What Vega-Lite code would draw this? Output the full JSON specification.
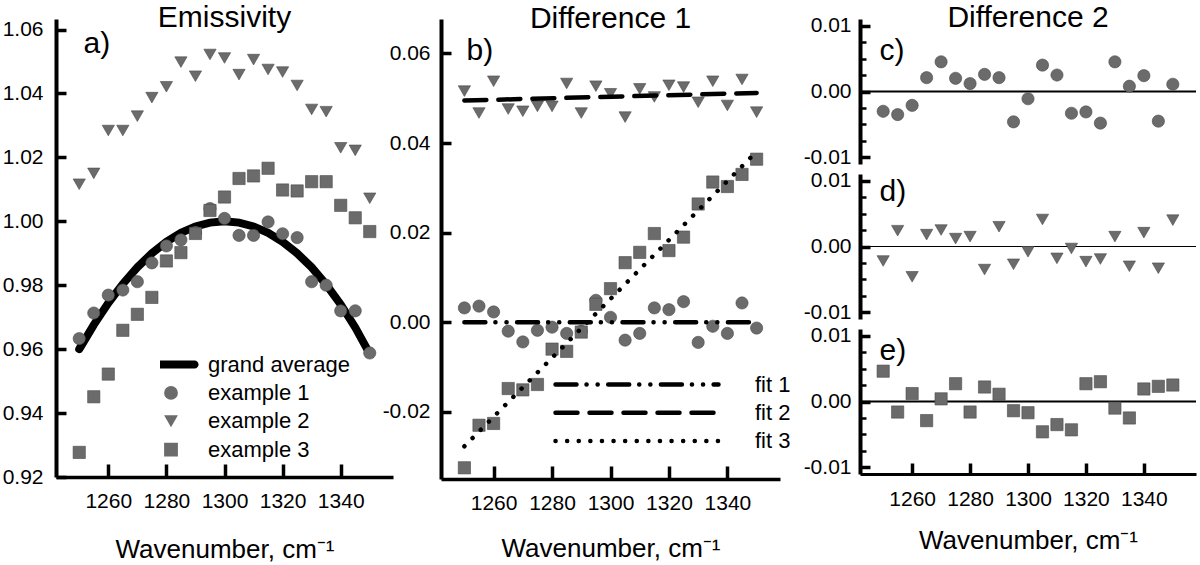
{
  "$schema": "https://vega.github.io/schema/vega-lite/v6.json",
  "description": "Emissivity examples with grand average (a), first differences with fits (b), and second differences (c-e).",
  "padding": {"left": 2, "top": 3, "right": 3, "bottom": 2},
  "spacing": 12,
  "bounds": "full",
  "resolve": {"scale": {"color": "independent", "shape": "independent", "strokeDash": "independent"}},
  "datasets": {
    "avg": [
      {"wn": 1250, "series": "grand average", "value": 0.960},
      {"wn": 1255, "series": "grand average", "value": 0.9676},
      {"wn": 1260, "series": "grand average", "value": 0.9744},
      {"wn": 1265, "series": "grand average", "value": 0.9804},
      {"wn": 1270, "series": "grand average", "value": 0.9856},
      {"wn": 1275, "series": "grand average", "value": 0.990},
      {"wn": 1280, "series": "grand average", "value": 0.9936},
      {"wn": 1285, "series": "grand average", "value": 0.9964},
      {"wn": 1290, "series": "grand average", "value": 0.9984},
      {"wn": 1295, "series": "grand average", "value": 0.9996},
      {"wn": 1300, "series": "grand average", "value": 1.000},
      {"wn": 1305, "series": "grand average", "value": 0.9996},
      {"wn": 1310, "series": "grand average", "value": 0.9984},
      {"wn": 1315, "series": "grand average", "value": 0.9964},
      {"wn": 1320, "series": "grand average", "value": 0.9936},
      {"wn": 1325, "series": "grand average", "value": 0.990},
      {"wn": 1330, "series": "grand average", "value": 0.9856},
      {"wn": 1335, "series": "grand average", "value": 0.9802},
      {"wn": 1340, "series": "grand average", "value": 0.974},
      {"wn": 1345, "series": "grand average", "value": 0.9668},
      {"wn": 1350, "series": "grand average", "value": 0.9585}
    ],
    "emis": [
      {"wn": 1250, "series": "example 1", "value": 0.9633},
      {"wn": 1255, "series": "example 1", "value": 0.9713},
      {"wn": 1260, "series": "example 1", "value": 0.9769},
      {"wn": 1265, "series": "example 1", "value": 0.9785},
      {"wn": 1270, "series": "example 1", "value": 0.9811},
      {"wn": 1275, "series": "example 1", "value": 0.987},
      {"wn": 1280, "series": "example 1", "value": 0.9923},
      {"wn": 1285, "series": "example 1", "value": 0.9942},
      {"wn": 1290, "series": "example 1", "value": 0.9965},
      {"wn": 1295, "series": "example 1", "value": 1.004},
      {"wn": 1300, "series": "example 1", "value": 1.0009},
      {"wn": 1305, "series": "example 1", "value": 0.9956},
      {"wn": 1310, "series": "example 1", "value": 0.9956},
      {"wn": 1315, "series": "example 1", "value": 0.9998},
      {"wn": 1320, "series": "example 1", "value": 0.9961},
      {"wn": 1325, "series": "example 1", "value": 0.9949},
      {"wn": 1330, "series": "example 1", "value": 0.9811},
      {"wn": 1335, "series": "example 1", "value": 0.980},
      {"wn": 1340, "series": "example 1", "value": 0.972},
      {"wn": 1345, "series": "example 1", "value": 0.972},
      {"wn": 1350, "series": "example 1", "value": 0.9588},
      {"wn": 1250, "series": "example 2", "value": 1.0116},
      {"wn": 1255, "series": "example 2", "value": 1.015},
      {"wn": 1260, "series": "example 2", "value": 1.0284},
      {"wn": 1265, "series": "example 2", "value": 1.0284},
      {"wn": 1270, "series": "example 2", "value": 1.0329},
      {"wn": 1275, "series": "example 2", "value": 1.0387},
      {"wn": 1280, "series": "example 2", "value": 1.0421},
      {"wn": 1285, "series": "example 2", "value": 1.0498},
      {"wn": 1290, "series": "example 2", "value": 1.0454},
      {"wn": 1295, "series": "example 2", "value": 1.0522},
      {"wn": 1300, "series": "example 2", "value": 1.0511},
      {"wn": 1305, "series": "example 2", "value": 1.0459},
      {"wn": 1310, "series": "example 2", "value": 1.0506},
      {"wn": 1315, "series": "example 2", "value": 1.0475},
      {"wn": 1320, "series": "example 2", "value": 1.0467},
      {"wn": 1325, "series": "example 2", "value": 1.0425},
      {"wn": 1330, "series": "example 2", "value": 1.035},
      {"wn": 1335, "series": "example 2", "value": 1.0343},
      {"wn": 1340, "series": "example 2", "value": 1.023},
      {"wn": 1345, "series": "example 2", "value": 1.0222},
      {"wn": 1350, "series": "example 2", "value": 1.0072},
      {"wn": 1250, "series": "example 3", "value": 0.9277},
      {"wn": 1255, "series": "example 3", "value": 0.9451},
      {"wn": 1260, "series": "example 3", "value": 0.9522},
      {"wn": 1265, "series": "example 3", "value": 0.9659},
      {"wn": 1270, "series": "example 3", "value": 0.9709},
      {"wn": 1275, "series": "example 3", "value": 0.9762},
      {"wn": 1280, "series": "example 3", "value": 0.9876},
      {"wn": 1285, "series": "example 3", "value": 0.9902},
      {"wn": 1290, "series": "example 3", "value": 0.9962},
      {"wn": 1295, "series": "example 3", "value": 1.0034},
      {"wn": 1300, "series": "example 3", "value": 1.0076},
      {"wn": 1305, "series": "example 3", "value": 1.0134},
      {"wn": 1310, "series": "example 3", "value": 1.0142},
      {"wn": 1315, "series": "example 3", "value": 1.0166},
      {"wn": 1320, "series": "example 3", "value": 1.0098},
      {"wn": 1325, "series": "example 3", "value": 1.0095},
      {"wn": 1330, "series": "example 3", "value": 1.0124},
      {"wn": 1335, "series": "example 3", "value": 1.0124},
      {"wn": 1340, "series": "example 3", "value": 1.005},
      {"wn": 1345, "series": "example 3", "value": 1.0011},
      {"wn": 1350, "series": "example 3", "value": 0.9968}
    ],
    "diff1": [
      {"wn": 1250, "series": "example 1", "value": 0.0032},
      {"wn": 1255, "series": "example 1", "value": 0.0036},
      {"wn": 1260, "series": "example 1", "value": 0.0023},
      {"wn": 1265, "series": "example 1", "value": -0.002},
      {"wn": 1270, "series": "example 1", "value": -0.0044},
      {"wn": 1275, "series": "example 1", "value": -0.0018},
      {"wn": 1280, "series": "example 1", "value": -0.0011},
      {"wn": 1285, "series": "example 1", "value": -0.0025},
      {"wn": 1290, "series": "example 1", "value": -0.002},
      {"wn": 1295, "series": "example 1", "value": 0.0049},
      {"wn": 1300, "series": "example 1", "value": 0.0011},
      {"wn": 1305, "series": "example 1", "value": -0.004},
      {"wn": 1310, "series": "example 1", "value": -0.0025},
      {"wn": 1315, "series": "example 1", "value": 0.0032},
      {"wn": 1320, "series": "example 1", "value": 0.0028},
      {"wn": 1325, "series": "example 1", "value": 0.0046},
      {"wn": 1330, "series": "example 1", "value": -0.0045},
      {"wn": 1335, "series": "example 1", "value": -0.0009},
      {"wn": 1340, "series": "example 1", "value": -0.0025},
      {"wn": 1345, "series": "example 1", "value": 0.0043},
      {"wn": 1350, "series": "example 1", "value": -0.0013},
      {"wn": 1250, "series": "example 2", "value": 0.0516},
      {"wn": 1255, "series": "example 2", "value": 0.0467},
      {"wn": 1260, "series": "example 2", "value": 0.0538},
      {"wn": 1265, "series": "example 2", "value": 0.0476},
      {"wn": 1270, "series": "example 2", "value": 0.0471},
      {"wn": 1275, "series": "example 2", "value": 0.0482},
      {"wn": 1280, "series": "example 2", "value": 0.0482},
      {"wn": 1285, "series": "example 2", "value": 0.0533},
      {"wn": 1290, "series": "example 2", "value": 0.0467},
      {"wn": 1295, "series": "example 2", "value": 0.0527},
      {"wn": 1300, "series": "example 2", "value": 0.051},
      {"wn": 1305, "series": "example 2", "value": 0.0458},
      {"wn": 1310, "series": "example 2", "value": 0.0521},
      {"wn": 1315, "series": "example 2", "value": 0.0503},
      {"wn": 1320, "series": "example 2", "value": 0.0529},
      {"wn": 1325, "series": "example 2", "value": 0.0525},
      {"wn": 1330, "series": "example 2", "value": 0.0491},
      {"wn": 1335, "series": "example 2", "value": 0.0538},
      {"wn": 1340, "series": "example 2", "value": 0.0484},
      {"wn": 1345, "series": "example 2", "value": 0.0542},
      {"wn": 1350, "series": "example 2", "value": 0.0469},
      {"wn": 1250, "series": "example 3", "value": -0.0325},
      {"wn": 1255, "series": "example 3", "value": -0.023},
      {"wn": 1260, "series": "example 3", "value": -0.0226},
      {"wn": 1265, "series": "example 3", "value": -0.0148},
      {"wn": 1270, "series": "example 3", "value": -0.0151},
      {"wn": 1275, "series": "example 3", "value": -0.0139},
      {"wn": 1280, "series": "example 3", "value": -0.006},
      {"wn": 1285, "series": "example 3", "value": -0.0065},
      {"wn": 1290, "series": "example 3", "value": -0.0022},
      {"wn": 1295, "series": "example 3", "value": 0.004},
      {"wn": 1300, "series": "example 3", "value": 0.0075},
      {"wn": 1305, "series": "example 3", "value": 0.0133},
      {"wn": 1310, "series": "example 3", "value": 0.0156},
      {"wn": 1315, "series": "example 3", "value": 0.0198},
      {"wn": 1320, "series": "example 3", "value": 0.016},
      {"wn": 1325, "series": "example 3", "value": 0.019},
      {"wn": 1330, "series": "example 3", "value": 0.0264},
      {"wn": 1335, "series": "example 3", "value": 0.0313},
      {"wn": 1340, "series": "example 3", "value": 0.0303},
      {"wn": 1345, "series": "example 3", "value": 0.033},
      {"wn": 1350, "series": "example 3", "value": 0.0364}
    ],
    "fits": [
      {"wn": 1250, "fit": "fit 1", "value": 0.0},
      {"wn": 1350, "fit": "fit 1", "value": 0.0},
      {"wn": 1250, "fit": "fit 2", "value": 0.0495},
      {"wn": 1350, "fit": "fit 2", "value": 0.0512},
      {"wn": 1250, "fit": "fit 3", "value": -0.0277},
      {"wn": 1350, "fit": "fit 3", "value": 0.0381}
    ],
    "diff2": [
      {"wn": 1250, "series": "example 1", "value": -0.003},
      {"wn": 1255, "series": "example 1", "value": -0.0035},
      {"wn": 1260, "series": "example 1", "value": -0.0021},
      {"wn": 1265, "series": "example 1", "value": 0.0021},
      {"wn": 1270, "series": "example 1", "value": 0.0045},
      {"wn": 1275, "series": "example 1", "value": 0.002},
      {"wn": 1280, "series": "example 1", "value": 0.0012},
      {"wn": 1285, "series": "example 1", "value": 0.0026},
      {"wn": 1290, "series": "example 1", "value": 0.0021},
      {"wn": 1295, "series": "example 1", "value": -0.0046},
      {"wn": 1300, "series": "example 1", "value": -0.0011},
      {"wn": 1305, "series": "example 1", "value": 0.004},
      {"wn": 1310, "series": "example 1", "value": 0.0025},
      {"wn": 1315, "series": "example 1", "value": -0.0033},
      {"wn": 1320, "series": "example 1", "value": -0.0031},
      {"wn": 1325, "series": "example 1", "value": -0.0048},
      {"wn": 1330, "series": "example 1", "value": 0.0045},
      {"wn": 1335, "series": "example 1", "value": 0.0008},
      {"wn": 1340, "series": "example 1", "value": 0.0024},
      {"wn": 1345, "series": "example 1", "value": -0.0045},
      {"wn": 1350, "series": "example 1", "value": 0.0011},
      {"wn": 1250, "series": "example 2", "value": -0.0022},
      {"wn": 1255, "series": "example 2", "value": 0.0024},
      {"wn": 1260, "series": "example 2", "value": -0.0046},
      {"wn": 1265, "series": "example 2", "value": 0.0018},
      {"wn": 1270, "series": "example 2", "value": 0.0025},
      {"wn": 1275, "series": "example 2", "value": 0.0012},
      {"wn": 1280, "series": "example 2", "value": 0.0015},
      {"wn": 1285, "series": "example 2", "value": -0.0035},
      {"wn": 1290, "series": "example 2", "value": 0.003},
      {"wn": 1295, "series": "example 2", "value": -0.0027},
      {"wn": 1300, "series": "example 2", "value": -0.0008},
      {"wn": 1305, "series": "example 2", "value": 0.0041},
      {"wn": 1310, "series": "example 2", "value": -0.0018},
      {"wn": 1315, "series": "example 2", "value": -0.0003},
      {"wn": 1320, "series": "example 2", "value": -0.0023},
      {"wn": 1325, "series": "example 2", "value": -0.0019},
      {"wn": 1330, "series": "example 2", "value": 0.0015},
      {"wn": 1335, "series": "example 2", "value": -0.003},
      {"wn": 1340, "series": "example 2", "value": 0.0021},
      {"wn": 1345, "series": "example 2", "value": -0.0033},
      {"wn": 1350, "series": "example 2", "value": 0.004},
      {"wn": 1250, "series": "example 3", "value": 0.0046},
      {"wn": 1255, "series": "example 3", "value": -0.0016},
      {"wn": 1260, "series": "example 3", "value": 0.0012},
      {"wn": 1265, "series": "example 3", "value": -0.0029},
      {"wn": 1270, "series": "example 3", "value": 0.0004},
      {"wn": 1275, "series": "example 3", "value": 0.0027},
      {"wn": 1280, "series": "example 3", "value": -0.0016},
      {"wn": 1285, "series": "example 3", "value": 0.0022},
      {"wn": 1290, "series": "example 3", "value": 0.0011},
      {"wn": 1295, "series": "example 3", "value": -0.0014},
      {"wn": 1300, "series": "example 3", "value": -0.0017},
      {"wn": 1305, "series": "example 3", "value": -0.0046},
      {"wn": 1310, "series": "example 3", "value": -0.0035},
      {"wn": 1315, "series": "example 3", "value": -0.0043},
      {"wn": 1320, "series": "example 3", "value": 0.0027},
      {"wn": 1325, "series": "example 3", "value": 0.003},
      {"wn": 1330, "series": "example 3", "value": -0.001},
      {"wn": 1335, "series": "example 3", "value": -0.0025},
      {"wn": 1340, "series": "example 3", "value": 0.0019},
      {"wn": 1345, "series": "example 3", "value": 0.0023},
      {"wn": 1350, "series": "example 3", "value": 0.0025}
    ],
    "zero": [{"value": 0}]
  },
  "hconcat": [
    {
      "hconcat": [
        {
          "width": 337,
          "height": 458,
          "title": {"text": "Emissivity", "offset": -14.5},
          "encoding": {
            "x": {
              "field": "wn", "type": "quantitative",
              "scale": {"domain": [1242, 1358], "nice": false, "zero": false},
              "axis": {"values": [1260, 1280, 1300, 1320, 1340], "format": "d", "title": "Wavenumber, cm⁻¹", "zindex": 1,
                "tickSize": -13, "labelPadding": 26, "titlePadding": 25,
                "domainColor": "black", "tickColor": "black", "domainWidth": 3.5, "tickWidth": 3.5,
                "encode": {
                  "domain": {"update": {"stroke": {"value": "black"}, "strokeWidth": {"value": 3.5}}},
                  "ticks": {"update": {"stroke": {"value": "black"}, "strokeWidth": {"value": 3.5}}}
                }}
            },
            "y": {
              "field": "value", "type": "quantitative",
              "scale": {"domain": [0.92, 1.0633], "nice": false, "zero": false},
              "axis": {"values": [0.92, 0.94, 0.96, 0.98, 1.0, 1.02, 1.04, 1.06], "format": ".2f", "zindex": 1,
                "title": "a)", "titleAngle": 0, "titleX": 27, "titleY": 33.5, "titleAlign": "left", "titleBaseline": "alphabetic", "titleFontSize": 30,
                "tickSize": -10, "labelPadding": 23,
                "domainColor": "black", "tickColor": "black", "domainWidth": 4, "tickWidth": 3.5,
                "encode": {
                  "domain": {"update": {"stroke": {"value": "black"}, "strokeWidth": {"value": 4}}},
                  "ticks": {"update": {"stroke": {"value": "black"}, "strokeWidth": {"value": 3.5}}}
                }}
            }
          },
          "layer": [
            {
              "data": {"name": "avg"},
              "mark": {"type": "line", "color": "black", "strokeWidth": 8, "strokeCap": "round"}
            },
            {
              "data": {"name": "emis"},
              "mark": {"type": "point", "filled": true, "opacity": 1, "size": 150, "stroke": "#4a4a4a", "strokeWidth": 0.6},
              "encoding": {
                "color": {
                  "field": "series", "type": "nominal",
                  "scale": {"domain": ["grand average", "example 1", "example 2", "example 3"], "range": ["black", "#6b6b6b", "#6b6b6b", "#6b6b6b"]},
                  "legend": {"orient": "none", "legendX": 104, "legendY": 334.5, "title": null, "symbolSize": 190, "clipHeight": 22, "rowPadding": 6.4, "labelFontSize": 22, "labelOffset": 26, "symbolStrokeWidth": 0, "padding": 0}
                },
                "shape": {
                  "field": "series", "type": "nominal",
                  "scale": {"domain": ["grand average", "example 1", "example 2", "example 3"], "range": ["M-3.42,-0.58L3.42,-0.58A0.58,0.58 0 0 1 3.42,0.58L-3.42,0.58A0.58,0.58 0 0 1 -3.42,-0.58Z", "circle", "triangle-down", "square"]},
                  "legend": {"orient": "none", "legendX": 104, "legendY": 334.5, "title": null, "symbolSize": 190, "clipHeight": 22, "rowPadding": 6.4, "labelFontSize": 22, "labelOffset": 26, "symbolStrokeWidth": 0, "padding": 0}
                }
              }
            }
          ]
        },
        {
          "width": 339,
          "height": 460,
          "title": {"text": "Difference 1", "offset": -14.5},
          "encoding": {
            "x": {
              "field": "wn", "type": "quantitative",
              "scale": {"domain": [1242, 1358], "nice": false, "zero": false},
              "axis": {"values": [1260, 1280, 1300, 1320, 1340], "format": "d", "title": "Wavenumber, cm⁻¹", "zindex": 1,
                "tickSize": -13, "labelPadding": 26, "titlePadding": 22,
                "domainColor": "black", "tickColor": "black", "domainWidth": 3.5, "tickWidth": 3.5}
            },
            "y": {
              "field": "value", "type": "quantitative",
              "scale": {"domain": [-0.035, 0.0677], "nice": false, "zero": false},
              "axis": {"values": [-0.02, 0, 0.02, 0.04, 0.06], "format": ".2f", "labelExpr": "replace(datum.label, '−', '-')", "zindex": 1,
                "title": "b)", "titleAngle": 0, "titleX": 25, "titleY": 40.5, "titleAlign": "left", "titleBaseline": "alphabetic", "titleFontSize": 30,
                "tickSize": -10, "labelPadding": 21,
                "domainColor": "black", "tickColor": "black", "domainWidth": 4, "tickWidth": 3.5}
            }
          },
          "layer": [
            {
              "data": {"name": "diff1"},
              "transform": [{"filter": "datum.series == 'example 1'"}],
              "mark": {"type": "point", "shape": "circle", "filled": true, "opacity": 1, "size": 150, "fill": "#6b6b6b", "stroke": "#4a4a4a", "strokeWidth": 0.6}
            },
            {
              "data": {"name": "diff1"},
              "transform": [{"filter": "datum.series == 'example 2'"}],
              "mark": {"type": "point", "shape": "triangle-down", "filled": true, "opacity": 1, "size": 150, "fill": "#6b6b6b", "stroke": "#4a4a4a", "strokeWidth": 0.6}
            },
            {
              "data": {"name": "diff1"},
              "transform": [{"filter": "datum.series == 'example 3'"}],
              "mark": {"type": "point", "shape": "square", "filled": true, "opacity": 1, "size": 150, "fill": "#6b6b6b", "stroke": "#4a4a4a", "strokeWidth": 0.6}
            },
            {
              "data": {"name": "fits"},
              "mark": {"type": "line", "color": "black", "strokeWidth": 4.5, "strokeCap": "round"},
              "encoding": {
                "strokeDash": {
                  "field": "fit", "type": "nominal",
                  "scale": {"domain": ["fit 1", "fit 2", "fit 3"], "range": [[21, 10, 0.1, 11, 0.1, 10.5], [22, 12], [0.1, 11.5]]},
                  "legend": {
                    "orient": "none", "legendX": 112, "legendY": 354.5, "title": null,
                    "symbolType": "stroke", "symbolSize": 26569, "symbolStrokeWidth": 4.5, "symbolStrokeColor": "black",
                    "clipHeight": 22, "rowPadding": 6.2, "labelFontSize": 22, "labelOffset": 34, "padding": 0,
                    "encode": {"symbols": {"update": {"strokeCap": {"value": "round"}}}}
                  }
                }
              }
            }
          ]
        }
      ],
      "spacing": 48,
      "bounds": "flush",
      "resolve": {"scale": {"color": "independent", "shape": "independent", "strokeDash": "independent"}}
    },
    {
      "vconcat": [
        {
          "width": 336,
          "height": 145,
          "title": {"text": "Difference 2", "offset": -18.9},
          "encoding": {
            "y": {
              "field": "value", "type": "quantitative",
              "scale": {"domain": [-0.011, 0.011], "nice": false, "zero": false},
              "axis": {
                "values": [-0.01, -0.0075, -0.005, -0.0025, 0, 0.0025, 0.005, 0.0075, 0.01],
                "labelExpr": "datum.value > 0.009 ? '0.01' : datum.value < -0.009 ? '-0.01' : abs(datum.value) < 0.001 ? '0.00' : ''",
                "title": "c)", "titleAngle": 0, "titleX": 19, "titleY": 40.5, "titleAlign": "left", "titleBaseline": "alphabetic", "titleFontSize": 30,
                "labelPadding": 19, "zindex": 1,
                "domainColor": "black", "tickColor": "black", "domainWidth": 4,
                "tickSize": {"condition": {"test": "abs(datum.value) < 0.001 || abs(datum.value) > 0.009", "value": -10}, "value": -6},
                "tickWidth": {"condition": {"test": "abs(datum.value) < 0.001 || abs(datum.value) > 0.009", "value": 3.5}, "value": 2.5}
              }
            }
          },
          "layer": [
            {"data": {"name": "zero"}, "mark": {"type": "rule", "color": "black", "strokeWidth": 2}, "encoding": {}},
            {
              "data": {"name": "diff2"},
              "transform": [{"filter": "datum.series == 'example 1'"}],
              "mark": {"type": "point", "shape": "circle", "filled": true, "opacity": 1, "size": 150, "fill": "#6b6b6b", "stroke": "#4a4a4a", "strokeWidth": 0.6},
              "encoding": {"x": {"field": "wn", "type": "quantitative", "scale": {"domain": [1242, 1358], "nice": false, "zero": false}, "axis": null}}
            }
          ]
        },
        {
          "width": 336,
          "height": 145,
          "encoding": {
            "y": {
              "field": "value", "type": "quantitative",
              "scale": {"domain": [-0.011, 0.011], "nice": false, "zero": false},
              "axis": {
                "values": [-0.01, -0.0075, -0.005, -0.0025, 0, 0.0025, 0.005, 0.0075, 0.01],
                "labelExpr": "datum.value > 0.009 ? '0.01' : datum.value < -0.009 ? '-0.01' : abs(datum.value) < 0.001 ? '0.00' : ''",
                "title": "d)", "titleAngle": 0, "titleX": 19, "titleY": 26.6, "titleAlign": "left", "titleBaseline": "alphabetic", "titleFontSize": 30,
                "labelPadding": 19, "zindex": 1,
                "domainColor": "black", "tickColor": "black", "domainWidth": 4,
                "tickSize": {"condition": {"test": "abs(datum.value) < 0.001 || abs(datum.value) > 0.009", "value": -10}, "value": -6},
                "tickWidth": {"condition": {"test": "abs(datum.value) < 0.001 || abs(datum.value) > 0.009", "value": 3.5}, "value": 2.5}
              }
            }
          },
          "layer": [
            {"data": {"name": "zero"}, "mark": {"type": "rule", "color": "black", "strokeWidth": 1.2}, "encoding": {}},
            {
              "data": {"name": "diff2"},
              "transform": [{"filter": "datum.series == 'example 2'"}],
              "mark": {"type": "point", "shape": "triangle-down", "filled": true, "opacity": 1, "size": 150, "fill": "#6b6b6b", "stroke": "#4a4a4a", "strokeWidth": 0.6},
              "encoding": {"x": {"field": "wn", "type": "quantitative", "scale": {"domain": [1242, 1358], "nice": false, "zero": false}, "axis": null}}
            }
          ]
        },
        {
          "width": 336,
          "height": 145,
          "encoding": {
            "y": {
              "field": "value", "type": "quantitative",
              "scale": {"domain": [-0.011, 0.011], "nice": false, "zero": false},
              "axis": {
                "values": [-0.01, -0.0075, -0.005, -0.0025, 0, 0.0025, 0.005, 0.0075, 0.01],
                "labelExpr": "datum.value > 0.009 ? '0.01' : datum.value < -0.009 ? '-0.01' : abs(datum.value) < 0.001 ? '0.00' : ''",
                "title": "e)", "titleAngle": 0, "titleX": 19, "titleY": 30.7, "titleAlign": "left", "titleBaseline": "alphabetic", "titleFontSize": 30,
                "labelPadding": 19, "zindex": 1,
                "domainColor": "black", "tickColor": "black", "domainWidth": 4,
                "tickSize": {"condition": {"test": "abs(datum.value) < 0.001 || abs(datum.value) > 0.009", "value": -10}, "value": -6},
                "tickWidth": {"condition": {"test": "abs(datum.value) < 0.001 || abs(datum.value) > 0.009", "value": 3.5}, "value": 2.5}
              }
            }
          },
          "layer": [
            {"data": {"name": "zero"}, "mark": {"type": "rule", "color": "black", "strokeWidth": 2}, "encoding": {}},
            {
              "data": {"name": "diff2"},
              "transform": [{"filter": "datum.series == 'example 3'"}],
              "mark": {"type": "point", "shape": "square", "filled": true, "opacity": 1, "size": 150, "fill": "#6b6b6b", "stroke": "#4a4a4a", "strokeWidth": 0.6},
              "encoding": {
                "x": {
                  "field": "wn", "type": "quantitative",
                  "scale": {"domain": [1242, 1358], "nice": false, "zero": false},
                  "axis": {"values": [1260, 1280, 1300, 1320, 1340], "format": "d", "title": "Wavenumber, cm⁻¹", "zindex": 1,
                    "tickSize": -11, "labelPadding": 25, "titlePadding": 18,
                    "domainColor": "black", "tickColor": "black", "domainWidth": 3, "tickWidth": 3.5}
                }
              }
            }
          ]
        }
      ],
      "spacing": 10,
      "bounds": "flush"
    }
  ],
  "config": {
    "font": "Liberation Sans",
    "view": {"stroke": null},
    "title": {"font": "Liberation Sans", "fontSize": 30, "fontWeight": "normal", "color": "black", "frame": "group", "baseline": "alphabetic"},
    "axis": {
      "grid": false,
      "labelFont": "Liberation Sans", "labelFontSize": 21, "labelColor": "black", "labelOverlap": false, "labelFlush": false,
      "titleFont": "Liberation Sans", "titleFontSize": 26, "titleFontWeight": "normal", "titleColor": "black",
      "domainColor": "black", "tickColor": "black"
    },
    "legend": {"labelFont": "Liberation Sans", "labelColor": "black"}
  }
}
